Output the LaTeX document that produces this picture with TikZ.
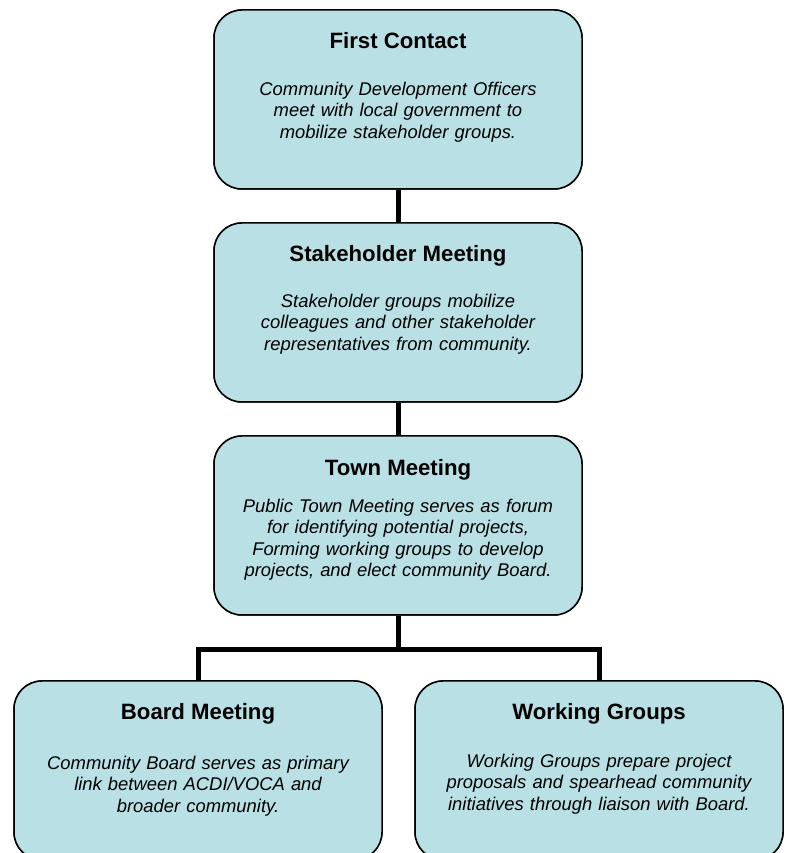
\documentclass[tikz,border=0pt]{standalone}
\usepackage{fontspec}
\setmainfont{Liberation Sans}
\definecolor{boxfill}{RGB}{185,224,228}
\begin{document}
\begin{tikzpicture}[x=1pt,y=1pt,
  stagebox/.style={draw=black, line width=1.5pt, fill=boxfill, rounded corners=28pt,
    minimum width=368pt, minimum height=179pt, inner sep=0pt},
  stagetitle/.style={anchor=base, inner sep=0pt, font=\fontsize{22.2}{26}\selectfont\bfseries},
  stagetext/.style={anchor=base, inner sep=0pt, text width=366pt, align=center,
    font=\fontsize{18.4}{21.5}\selectfont\itshape},
  link/.style={line width=5pt, draw=black}]
\useasboundingbox (0,0) rectangle (788,853);
\clip (0,0) rectangle (788,853);
\fill[white] (0,0) rectangle (788,853);

% connectors, drawn first so the boxes cover their ends
\coordinate (j) at (398,203);
\path (398,753.5) coordinate (c1) (398,540.5) coordinate (c2) (398,327.5) coordinate (c3)
      (198,82.5) coordinate (c4) (599,82.5) coordinate (c5);

% stage boxes
\node[stagebox] (b1) at (c1) {};
\node[stagebox] (b2) at (c2) {};
\node[stagebox] (b3) at (c3) {};
\node[stagebox] (b4) at (c4) {};
\node[stagebox] (b5) at (c5) {};

\draw[link] (b1.south) -- (b2.north);
\draw[link] (b2.south) -- (b3.north);
\draw[link] (b3.south) -- (j);
\draw[link] (b4.north) |- (j) -| (b5.north);

% box bodies painted again over the connector ends
\foreach \b in {b1,b2,b3,b4,b5}
  \node[stagebox] at (\b) {};

% titles
\node[stagetitle] (t1) at (398,804) {First Contact};
\node[stagetitle] (t2) at (398,591) {Stakeholder Meeting};
\node[stagetitle] (t3) at (398,377) {Town Meeting};
\node[stagetitle] (t4) at (198,133) {Board Meeting};
\node[stagetitle] (t5) at (599,133) {Working Groups};

% descriptions
\node[stagetext] (d1) at (398,757.5) {Community Development Officers\\meet with local government to\\mobilize stakeholder groups.};
\node[stagetext] (d2) at (398,545.5) {Stakeholder groups mobilize\\colleagues and other stakeholder\\representatives from community.};
\node[stagetext] (d3) at (398,340.5) {Public Town Meeting serves as forum\\for identifying potential projects,\\Forming working groups to develop\\projects, and elect community Board.};
\node[stagetext] (d4) at (198,83.5) {Community Board serves as primary\\link between ACDI/VOCA and\\broader community.};
\node[stagetext] (d5) at (599,85.5) {Working Groups prepare project\\proposals and spearhead community\\initiatives through liaison with Board.};
\end{tikzpicture}
\end{document}
